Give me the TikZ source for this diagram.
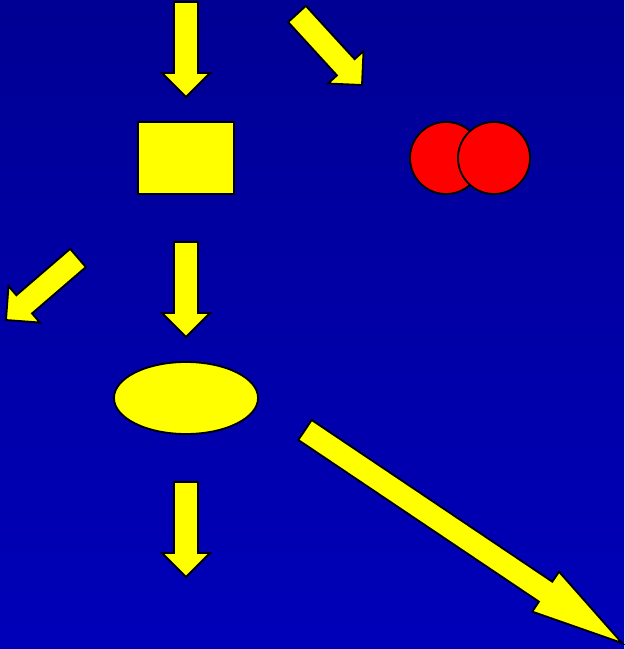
\documentclass[tikz,border=0pt]{standalone}
\usetikzlibrary{calc,shapes.geometric}
\definecolor{slideTop}{HTML}{000094}
\definecolor{slideBottom}{HTML}{0000B9}
\definecolor{arrowYellow}{HTML}{FFFF00}
\definecolor{atomRed}{HTML}{FF0000}
\tikzset{
  arrowbody/.style={fill=arrowYellow,draw=black,line width=1.3pt,line join=miter},
  shapebody/.style={draw=black,line width=1.3pt,inner sep=0pt},
}
\newcommand{\shafthalf}{0.3cm}
\newcommand{\headhalf}{0.6cm}
% block arrow from tail #1 to tip #2, head length #3
\newcommand{\yellowarrow}[3]{%
  \coordinate (#1-neck) at ($(#2)!#3!(#1)$);
  \draw[arrowbody] ($(#1)!\shafthalf!90:(#2)$) -- ($(#1-neck)!\shafthalf!90:(#2)$)
    -- ($(#1-neck)!\headhalf!90:(#2)$) -- (#2) -- ($(#1-neck)!\headhalf!-90:(#2)$)
    -- ($(#1-neck)!\shafthalf!-90:(#2)$) -- ($(#1)!\shafthalf!-90:(#2)$) -- cycle;}

\begin{document}
\begin{tikzpicture}[x=0.025cm,y=-0.025cm]
        \useasboundingbox (0,0) rectangle (624,649);
        \shade[top color=slideTop,bottom color=slideBottom] (0,0) rectangle (624,649);
        % shapes
        \node[shapebody,rectangle,fill=arrowYellow,minimum width=2.4cm,minimum height=1.8cm] (box) at (186,158) {};
        \node[shapebody,ellipse,fill=arrowYellow,minimum width=3.6cm,minimum height=1.8cm] (blob) at (186,398) {};
        \node[shapebody,circle,fill=atomRed,minimum size=1.8cm] (atomL) at (446,158) {};
        \node[shapebody,circle,fill=atomRed,minimum size=1.8cm] (atomR) at (494,158) {};
        % arrow ends
        \foreach \n/\tx/\ty/\hx/\hy in {inTop/186/2/186/97, toAtoms/297/14/362/85, outLeft/78/258/6/320,
            toBlob/186/242/186/337, outDown/186/482/186/577, outFar/305/430/622/643} {
          \coordinate (\n) at (\tx,\ty);
          \coordinate (\n-tip) at (\hx,\hy);
        }
        \foreach \n in {inTop,toAtoms,outLeft,toBlob,outDown} {
          \yellowarrow{\n}{\n-tip}{0.6cm}
        }
        \yellowarrow{outFar}{outFar-tip}{2.3cm}
      \end{tikzpicture}
\end{document}
